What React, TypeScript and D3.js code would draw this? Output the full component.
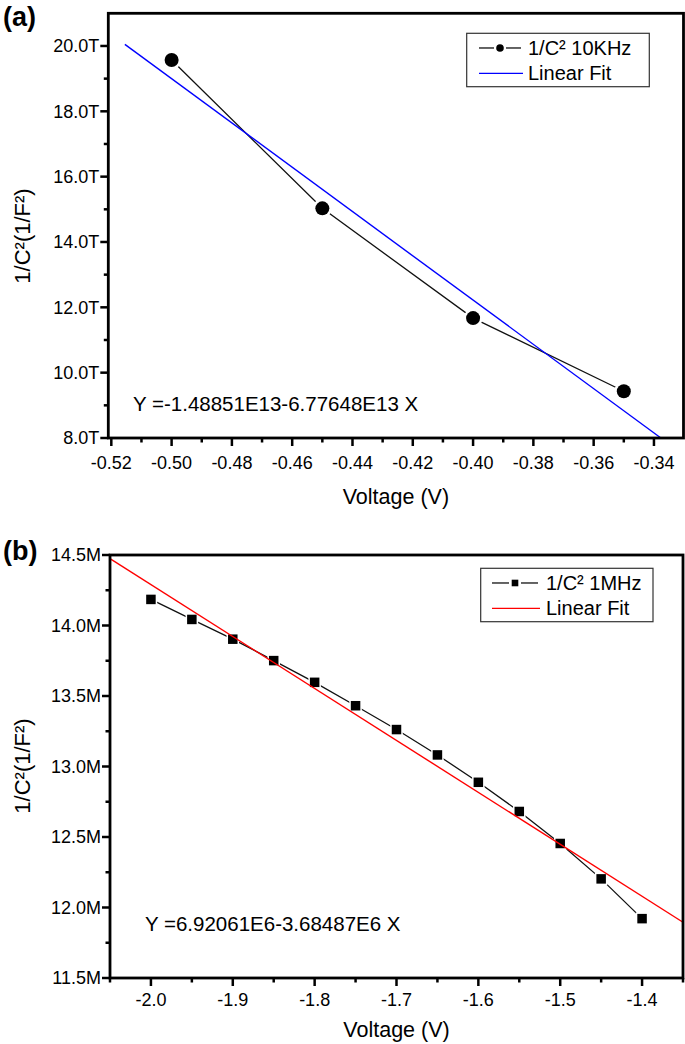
import { useEffect, useRef } from 'react'
import * as d3 from 'd3'

// Panel (a): 10 kHz
const voltageA = [-0.5, -0.45, -0.4, -0.35]
const invCapA = [19.57, 15.03, 11.67, 9.43] // 1/C² in units of 1e12 (T)
const fitA = { intercept: -14.8851, slope: -67.7648, from: -0.5155, to: -0.3377 }
const xTicksA = [-0.52, -0.5, -0.48, -0.46, -0.44, -0.42, -0.4, -0.38, -0.36, -0.34]
const yTicksA = [8, 10, 12, 14, 16, 18, 20]
const equationA = 'Y =-1.48851E13-6.77648E13 X'
const legendA = ['1/C² 10KHz', 'Linear Fit']

// Panel (b): 1 MHz
const voltageB = [-2.0, -1.95, -1.9, -1.85, -1.8, -1.75, -1.7, -1.65, -1.6, -1.55, -1.5, -1.45, -1.4]
const invCapB = [14.185, 14.043, 13.903, 13.751, 13.597, 13.431, 13.262, 13.082, 12.888, 12.681, 12.454, 12.203, 11.921] // units of 1e6 (M)
const fitB = { intercept: 6.92061, slope: -3.68487, from: -2.05, to: -1.35 }
const xTicksB = [-2.0, -1.9, -1.8, -1.7, -1.6, -1.5, -1.4]
const yTicksB = [11.5, 12.0, 12.5, 13.0, 13.5, 14.0, 14.5]
const equationB = 'Y =6.92061E6-3.68487E6 X'
const legendB = ['1/C² 1MHz', 'Linear Fit']

const FONT = '"Liberation Sans", Arial, sans-serif'

interface PanelCfg {
  tag: string
  tagY: number
  xDomain: [number, number]
  yDomain: [number, number]
  left: number
  right: number
  top: number
  bottom: number
  xs: number[]
  ys: number[]
  fit: { intercept: number; slope: number; from: number; to: number }
  fitColor: string
  xTicks: number[]
  yTicks: number[]
  xFmt: (v: number) => string
  yFmt: (v: number) => string
  marker: 'circle' | 'square'
  equation: string
  eqX: number
  eqY: number
  legend: string[]
  legendBox: [number, number, number, number]
  legendLine: [number, number]
  legendTextX: number
  xLabelOffset: number
  xTitleOffset: number
  yTitleCenter: number
}

function drawPanel(svg: d3.Selection<SVGSVGElement, unknown, null, undefined>, c: PanelCfg) {
  const g = svg.append('g')
  const x = d3.scaleLinear().domain(c.xDomain).range([c.left, c.right])
  const y = d3.scaleLinear().domain(c.yDomain).range([c.bottom, c.top])

  // ticks (outward), major + minor
  const xStep = c.xTicks[1] - c.xTicks[0]
  const yStep = c.yTicks[1] - c.yTicks[0]
  const xMinor = d3.range(c.xTicks[0] - xStep / 2, c.xDomain[1] + 1e-9, xStep)
    .filter((v) => v >= c.xDomain[0] - 1e-9 && v <= c.xDomain[1] + 1e-9)
  const yMinor = d3.range(c.yTicks[0] + yStep / 2, c.yDomain[1] - 1e-9, yStep)

  c.xTicks.forEach((t) => {
    g.append('line').attr('x1', x(t)).attr('x2', x(t)).attr('y1', c.bottom).attr('y2', c.bottom + 8)
      .attr('stroke', '#000').attr('stroke-width', 2.5)
    g.append('text').attr('x', x(t)).attr('y', c.bottom + c.xLabelOffset)
      .attr('text-anchor', 'middle').style('font-size', '18px').text(c.xFmt(t))
  })
  xMinor.forEach((t) => {
    g.append('line').attr('x1', x(t)).attr('x2', x(t)).attr('y1', c.bottom).attr('y2', c.bottom + 4.5)
      .attr('stroke', '#000').attr('stroke-width', 2.5)
  })
  c.yTicks.forEach((t) => {
    g.append('line').attr('x1', c.left - 8).attr('x2', c.left).attr('y1', y(t)).attr('y2', y(t))
      .attr('stroke', '#000').attr('stroke-width', 2.5)
    g.append('text').attr('x', c.left - 9).attr('y', y(t)).attr('dy', '0.36em')
      .attr('text-anchor', 'end').style('font-size', '18px').text(c.yFmt(t))
  })
  yMinor.forEach((t) => {
    g.append('line').attr('x1', c.left - 4.5).attr('x2', c.left).attr('y1', y(t)).attr('y2', y(t))
      .attr('stroke', '#000').attr('stroke-width', 2.5)
  })

  // data line
  const line = d3.line<number>().x((_, i) => x(c.xs[i])).y((d) => y(d))
  g.append('path').attr('d', line(c.ys)).attr('fill', 'none')
    .attr('stroke', '#111').attr('stroke-width', 1.3)

  // markers with a white halo for the gap
  c.ys.forEach((v, i) => {
    if (c.marker === 'circle') {
      g.append('circle').attr('cx', x(c.xs[i])).attr('cy', y(v)).attr('r', 7)
        .attr('fill', '#000').attr('stroke', '#fff').attr('stroke-width', 5)
        .attr('paint-order', 'stroke')
    } else {
      const s = 9.5
      g.append('rect').attr('x', x(c.xs[i]) - s / 2).attr('y', y(v) - s / 2)
        .attr('width', s).attr('height', s)
        .attr('fill', '#000').attr('stroke', '#fff').attr('stroke-width', 3)
        .attr('paint-order', 'stroke')
    }
  })

  // linear fit
  const f = (v: number) => c.fit.intercept + c.fit.slope * v
  g.append('line')
    .attr('x1', x(c.fit.from)).attr('y1', y(f(c.fit.from)))
    .attr('x2', x(c.fit.to)).attr('y2', y(f(c.fit.to)))
    .attr('stroke', c.fitColor).attr('stroke-width', 1.4)

  // frame
  g.append('rect').attr('x', c.left).attr('y', c.top)
    .attr('width', c.right - c.left).attr('height', c.bottom - c.top)
    .attr('fill', 'none').attr('stroke', '#000').attr('stroke-width', 2.8)

  // equation
  g.append('text').attr('x', c.eqX).attr('y', c.eqY).style('font-size', '20.5px').text(c.equation)

  // legend
  const [bx0, by0, bx1, by1] = c.legendBox
  g.append('rect').attr('x', bx0).attr('y', by0).attr('width', bx1 - bx0).attr('height', by1 - by0)
    .attr('fill', '#fff').attr('stroke', '#333').attr('stroke-width', 1.2)
  const rowH = (by1 - by0) / 2
  const [lx0, lx1] = c.legendLine
  const lm = (lx0 + lx1) / 2
  const r1 = by0 + rowH * 0.55
  const r2 = by0 + rowH * 1.5
  g.append('line').attr('x1', lx0).attr('x2', lm - 6).attr('y1', r1).attr('y2', r1)
    .attr('stroke', '#111').attr('stroke-width', 1.3)
  g.append('line').attr('x1', lm + 6).attr('x2', lx1).attr('y1', r1).attr('y2', r1)
    .attr('stroke', '#111').attr('stroke-width', 1.3)
  if (c.marker === 'circle') {
    g.append('circle').attr('cx', lm).attr('cy', r1).attr('r', 3.8).attr('fill', '#000')
  } else {
    g.append('rect').attr('x', lm - 3.3).attr('y', r1 - 3.3).attr('width', 6.6).attr('height', 6.6).attr('fill', '#000')
  }
  g.append('line').attr('x1', lx0).attr('x2', lx1 + 2).attr('y1', r2).attr('y2', r2)
    .attr('stroke', c.fitColor).attr('stroke-width', 1.3)
  g.append('text').attr('x', c.legendTextX).attr('y', r1 + 7).style('font-size', '20px').text(c.legend[0])
  g.append('text').attr('x', c.legendTextX).attr('y', r2 + 7).style('font-size', '20px').text(c.legend[1])

  // axis titles
  g.append('text').attr('x', (c.left + c.right) / 2).attr('y', c.bottom + c.xTitleOffset)
    .attr('text-anchor', 'middle').style('font-size', '21.5px').text('Voltage (V)')
  g.append('text').attr('transform', `translate(30,${c.yTitleCenter}) rotate(-90)`)
    .attr('text-anchor', 'middle').style('font-size', '22px').text('1/C²(1/F²)')

  // panel tag
  g.append('text').attr('x', 3).attr('y', c.tagY).style('font-size', '27px')
    .style('font-weight', 'bold').text(c.tag)
}

export default function App() {
  const ref = useRef<SVGSVGElement>(null)

  useEffect(() => {
    if (!ref.current) return
    const svg = d3.select(ref.current)
    svg.selectAll('*').remove()
    svg.append('rect').attr('width', 685).attr('height', 1044).attr('fill', '#fff')

    drawPanel(svg, {
      tag: '(a)', tagY: 26,
      xDomain: [-0.521, -0.3302], yDomain: [8, 21],
      left: 108.3, right: 683.5, top: 13.3, bottom: 438,
      xs: voltageA, ys: invCapA, fit: fitA, fitColor: '#0000ff',
      xTicks: xTicksA, yTicks: yTicksA,
      xFmt: (v) => v.toFixed(2), yFmt: (v) => `${v.toFixed(1)}T`,
      marker: 'circle', equation: equationA, eqX: 133, eqY: 410.5,
      legend: legendA, legendBox: [466.7, 33.3, 649.3, 86.7], legendLine: [479, 521], legendTextX: 528,
      xLabelOffset: 31, xTitleOffset: 66, yTitleCenter: 236,
    })

    drawPanel(svg, {
      tag: '(b)', tagY: 560,
      xDomain: [-2.05, -1.35], yDomain: [11.5, 14.5],
      left: 110, right: 683, top: 555, bottom: 978,
      xs: voltageB, ys: invCapB, fit: fitB, fitColor: '#ff0000',
      xTicks: xTicksB, yTicks: yTicksB,
      xFmt: (v) => v.toFixed(1), yFmt: (v) => `${v.toFixed(1)}M`,
      marker: 'square', equation: equationB, eqX: 145, eqY: 931,
      legend: legendB, legendBox: [480.7, 568.3, 653, 621.7], legendLine: [492, 538], legendTextX: 546,
      xLabelOffset: 28, xTitleOffset: 59, yTitleCenter: 766,
    })
  }, [])

  return (
    <svg
      ref={ref}
      width={685}
      height={1044}
      style={{ position: 'absolute', left: 0, top: 0, fontFamily: FONT }}
    />
  )
}
